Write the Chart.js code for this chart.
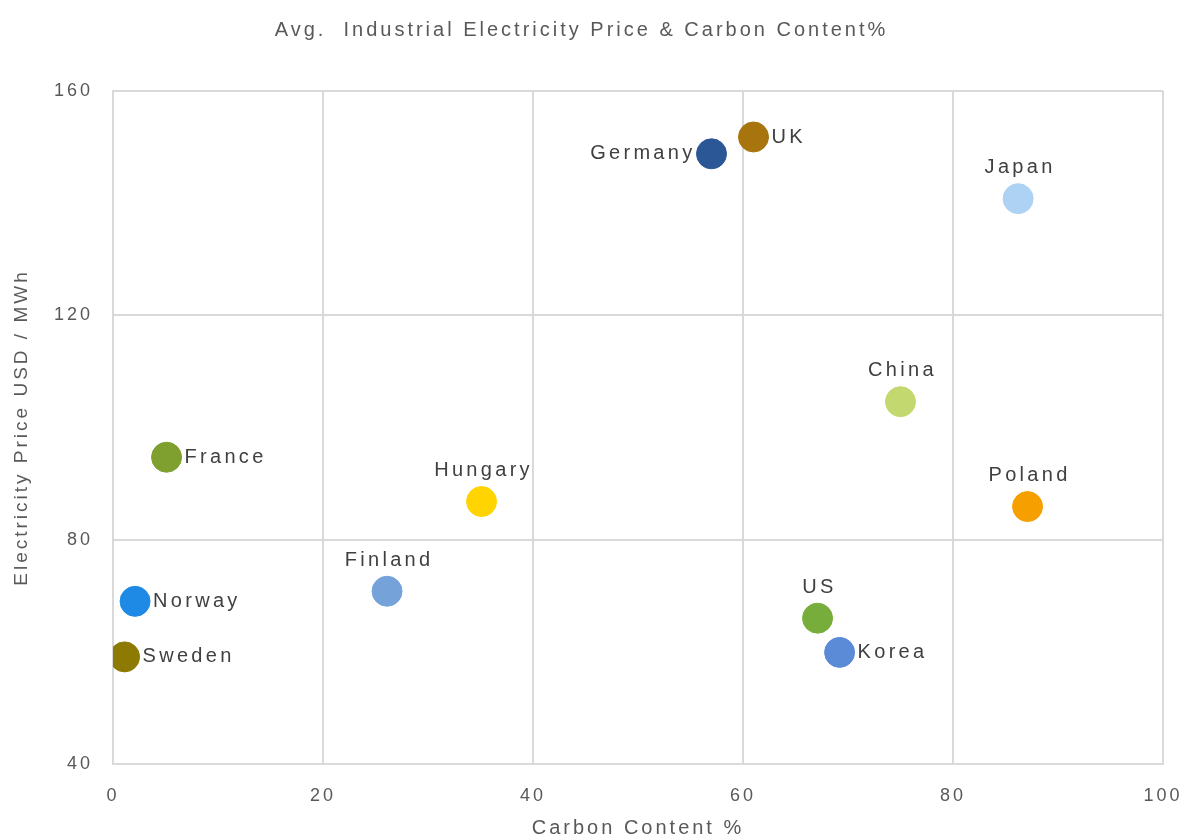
<!DOCTYPE html>
<html>
<head>
<meta charset="utf-8">
<script src="https://cdn.jsdelivr.net/npm/chart.js@4/dist/chart.umd.min.js"></script>
<style>
  html, body { margin: 0; padding: 0; background: #fff; }
  #wrap { width: 1187px; height: 840px; }
</style>
</head>
<body>
<div id="wrap"><canvas id="chart" width="1187" height="840"></canvas></div>
<script>
// data
const countries = ['Germany', 'UK', 'Japan', 'China', 'France', 'Hungary', 'Poland', 'Finland', 'Norway', 'Sweden', 'US', 'Korea'];
const carbon = [57, 61, 86.2, 75, 5.1, 35.1, 87.1, 26.1, 2.1, 1.1, 67.1, 69.2];
const price = [148.8, 151.8, 140.8, 104.6, 94.7, 86.8, 85.9, 70.8, 69, 59.1, 66, 59.9];
const pointColors = ['#2B5797', '#A8740E', '#ADD2F3', '#C3D86E', '#7F9F2F', '#FFD400', '#F5A000', '#76A2DA', '#1F8AE6', '#8C7A02', '#77AE3B', '#5B8BD6'];
const labelSide = ['left', 'right', 'top', 'top', 'right', 'top', 'top', 'top', 'right', 'right', 'top', 'right'];
const xTicks = [0, 20, 40, 60, 80, 100];
const yTicks = [40, 80, 120, 160];

const textColor = '#595959';
const gridColor = '#D9D9D9';
const fontFamily = '"Liberation Sans", Arial, sans-serif';

// the original text is drawn wide, so space the letters out a bit
const wideText = {
    id: 'wideText',
    beforeUpdate(chart) {
        chart.ctx.letterSpacing = '3px';
    }
};

const pointLabels = {
    id: 'pointLabels',
    afterDatasetsDraw(chart) {
        const ctx = chart.ctx;
        const meta = chart.getDatasetMeta(0);
        ctx.save();
        ctx.font = '20px ' + fontFamily;
        ctx.letterSpacing = '3.3px';
        ctx.fillStyle = '#404040';
        ctx.textBaseline = 'middle';
        meta.data.forEach((pt, i) => {
            const side = labelSide[i];
            if (side === 'left') {
                ctx.textAlign = 'right';
                ctx.fillText(countries[i], pt.x - 16, pt.y);
            } else if (side === 'right') {
                ctx.textAlign = 'left';
                ctx.fillText(countries[i], pt.x + 18, pt.y);
            } else {
                ctx.textAlign = 'center';
                ctx.fillText(countries[i], pt.x + 2, pt.y - 31);
            }
        });
        ctx.restore();
    }
};

new Chart(document.getElementById('chart'), {
    type: 'scatter',
    data: {
        labels: countries,
        datasets: [{
            data: countries.map((c, i) => ({ x: carbon[i], y: price[i] })),
            backgroundColor: pointColors,
            borderColor: pointColors,
            pointRadius: 15,
            pointHoverRadius: 15
        }]
    },
    options: {
        responsive: false,
        animation: false,
        layout: { padding: { top: 0, right: 24, bottom: 0, left: 0 } },
        plugins: {
            legend: { display: false },
            tooltip: { enabled: false },
            title: {
                display: true,
                text: 'Avg.  Industrial Electricity Price & Carbon Content%',
                color: textColor,
                font: { family: fontFamily, size: 20, weight: 'normal' },
                padding: { top: 18, bottom: 49 }
            }
        },
        scales: {
            x: {
                type: 'linear',
                min: 0,
                max: 100,
                afterBuildTicks: s => { s.ticks = xTicks.map(v => ({ value: v })); },
                afterFit: s => { s.height = 76; s.paddingLeft = 0; s.paddingRight = 0; },
                grid: { color: gridColor, lineWidth: 2, drawTicks: false },
                border: { color: gridColor, width: 2 },
                ticks: { color: textColor, padding: 21, font: { family: fontFamily, size: 18 } },
                title: {
                    display: true,
                    text: 'Carbon Content %',
                    color: textColor,
                    font: { family: fontFamily, size: 20 },
                    padding: { top: 0, bottom: 0 }
                }
            },
            y: {
                type: 'linear',
                min: 40,
                max: 160,
                afterBuildTicks: s => { s.ticks = yTicks.map(v => ({ value: v })); },
                afterFit: s => { s.width = 113; },
                grid: { color: gridColor, lineWidth: 2, drawTicks: false },
                border: { color: gridColor, width: 2 },
                ticks: { color: textColor, padding: 20, font: { family: fontFamily, size: 18 } },
                title: {
                    display: true,
                    text: 'Electricity Price USD / MWh',
                    color: textColor,
                    font: { family: fontFamily, size: 19 },
                    padding: { top: 10, bottom: 0 }
                }
            }
        }
    },
    plugins: [wideText, pointLabels]
});
</script>
</body>
</html>
